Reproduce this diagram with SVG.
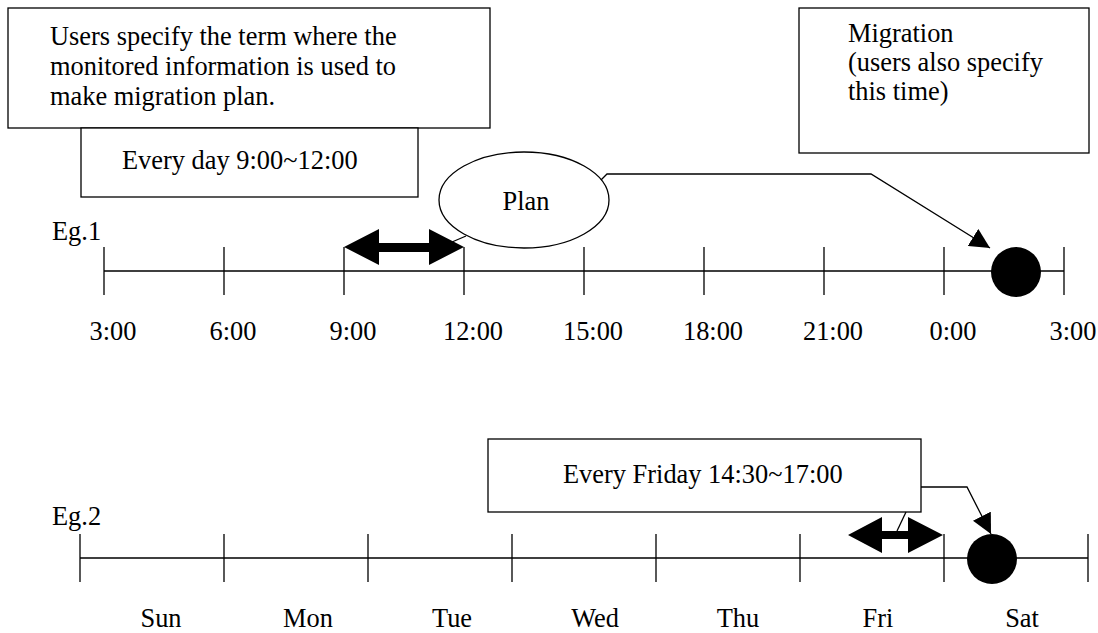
<svg xmlns="http://www.w3.org/2000/svg" width="1098" height="633" viewBox="0 0 1098 633">
<style>
text{font-family:"Liberation Serif","Times New Roman",serif;font-size:26.4px;fill:#000}
.box{fill:#fff;stroke:#000;stroke-width:1.3}
.ln{fill:none;stroke:#000;stroke-width:1.3}
.mid{text-anchor:middle}
</style>
<defs>
<marker id="ah" viewBox="0 0 20 20" refX="20" refY="10" markerWidth="20" markerHeight="20" markerUnits="userSpaceOnUse" orient="auto">
<path d="M0,0 L20,10 L0,20 z" fill="#000"/>
</marker>
</defs>
<rect width="1098" height="633" fill="#fff"/>

<g id="timeline1">
<path class="ln" d="M104,271 H1064 M104,247 V295 M224,247 V295 M344,247 V295 M464,247 V295 M584,247 V295 M704,247 V295 M824,247 V295 M944,247 V295 M1064,247 V295"/>
<text x="52" y="240">Eg.1</text>
<text class="mid" x="113" y="340">3:00</text>
<text class="mid" x="233" y="340">6:00</text>
<text class="mid" x="353" y="340">9:00</text>
<text class="mid" x="473" y="340">12:00</text>
<text class="mid" x="593" y="340">15:00</text>
<text class="mid" x="713" y="340">18:00</text>
<text class="mid" x="833" y="340">21:00</text>
<text class="mid" x="953" y="340">0:00</text>
<text class="mid" x="1073" y="340">3:00</text>
</g>

<g id="timeline2">
<path class="ln" d="M80,558 H1088 M80,534 V582 M224,534 V582 M368,534 V582 M512,534 V582 M656,534 V582 M800,534 V582 M944,534 V582 M1088,534 V582"/>
<text x="52" y="525">Eg.2</text>
<text class="mid" x="161" y="627">Sun</text>
<text class="mid" x="308" y="627">Mon</text>
<text class="mid" x="452" y="627">Tue</text>
<text class="mid" x="595" y="627">Wed</text>
<text class="mid" x="738" y="627">Thu</text>
<text class="mid" x="878" y="627">Fri</text>
<text class="mid" x="1022" y="627">Sat</text>
</g>

<g id="term-box">
<rect class="box" x="8" y="8" width="482" height="120"/>
<text x="50" y="45">Users specify the term where the</text>
<text x="50" y="75">monitored information is used to</text>
<text x="50" y="105">make migration plan.</text>
</g>

<g id="everyday-box">
<rect class="box" x="81" y="128" width="337" height="69"/>
<text x="122" y="169">Every day 9:00~12:00</text>
</g>

<g id="migration-box">
<rect class="box" x="799" y="8" width="290" height="145"/>
<text x="848" y="42">Migration</text>
<text x="848" y="71">(users also specify</text>
<text x="848" y="100">this time)</text>
</g>

<g id="plan">
<ellipse class="box" cx="524" cy="200" rx="85" ry="48"/>
<text class="mid" x="526" y="210">Plan</text>
</g>

<g id="friday-box">
<rect class="box" x="488" y="439" width="433" height="73"/>
<text x="563" y="483">Every Friday 14:30~17:00</text>
</g>

<g id="term1">
<polygon points="344,247 379,229 379,243 429,243 429,229 464,247 429,265 429,252 379,252 379,265" fill="#000"/>
</g>
<g id="term2">
<polygon points="848,535 882,517 882,531 908,531 908,517 943,535 908,553 908,539 882,539 882,553" fill="#000"/>
</g>

<g id="migration1">
<circle cx="1016" cy="272" r="25" fill="#000"/>
</g>
<g id="migration2">
<circle cx="992" cy="559" r="25" fill="#000"/>
</g>

<g id="connectors">
<polyline class="ln" points="601,180 607,174 871,174 990,248" marker-end="url(#ah)"/>
<line class="ln" x1="466" y1="236" x2="452" y2="242"/>
<polyline class="ln" points="921,487 967,487 991,534" marker-end="url(#ah)"/>
<line class="ln" x1="906" y1="512" x2="897" y2="531"/>
</g>
</svg>
